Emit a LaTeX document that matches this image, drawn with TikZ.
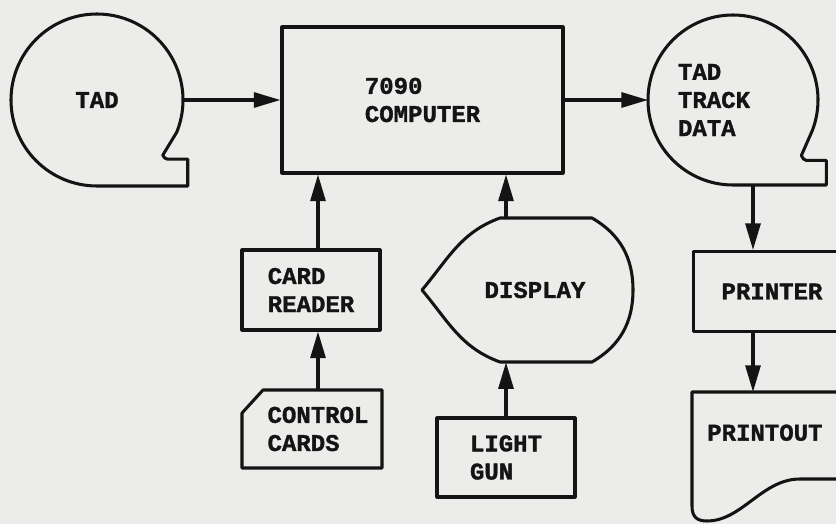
\documentclass[tikz,border=0pt]{standalone}
\usepackage{fontspec}
\setmonofont{Liberation Mono}[BoldFeatures={FakeBold=1.3}]
\usepackage{tikz}
\usetikzlibrary{arrows.meta}
\definecolor{ScanPaper}{RGB}{236, 236, 234}
\definecolor{ScanInk}{RGB}{20, 20, 20}
\newcommand{\scanfont}{\ttfamily\bfseries\fontsize{20.5}{24}\selectfont}

\begin{document}
\begin{tikzpicture}[
    x=0.03cm, y=0.03cm,
    ink/.style={draw=ScanInk, line width=2.6pt, line join=round},
    box/.style={rectangle, ink, font=\scanfont, text=ScanInk, align=left},
    txt/.style={rectangle, inner sep=0pt, font=\scanfont, text=ScanInk, align=left},
    reel/.style={circle, inner sep=0pt, outer sep=0pt, font=\scanfont, text=ScanInk, align=left},
    arrow/.style={-{Triangle[length=0.8cm, width=0.45cm]}, line width=2.6pt, draw=ScanInk}
  ]
    \useasboundingbox (0,0) rectangle (836,524);
    \fill[ScanPaper] (0,0) rectangle (836,524);
    \clip (0,0) rectangle (836,524);

    \node[reel, minimum size=5.16cm] (tad) at (97,424) {TAD};
    \node[box, minimum width=8.43cm, minimum height=4.38cm] (comp) at (422.5,424) {7090\\COMPUTER};
    \node[reel, minimum size=5.1cm, text width=3.3cm] (ttd) at (733,424) {TAD\\TRACK\\DATA};
    \node[box, minimum width=4.14cm, minimum height=2.4cm] (reader) at (311,234) {CARD\\READER};
    \node[txt, minimum height=2.34cm] (ctrl) at (318,95) {CONTROL\\CARDS};
    \node[txt, minimum height=4.32cm] (disp) at (535,234) {DISPLAY};
    \node[box, minimum width=4.14cm, minimum height=2.37cm] (gun) at (506,66.5) {LIGHT\\GUN};
    \node[box, anchor=north west, minimum height=2.4cm, text width=5cm, inner xsep=0.84cm] (printer) at (692,274) {PRINTER};
    \node[txt, anchor=north west, inner xsep=0.45cm, inner ysep=0.97cm] (printout) at (692,132) {PRINTOUT};
    \coordinate (feed) at ([xshift=0.6cm]ttd.south);

    \draw[ink] (tad.south) arc[start angle=-90, end angle=-382, radius=2.58cm] -- ++(-14,-23) to[out=-60,in=180] ++(5,-4) -- ++(20,0) |- (tad.south);
    \draw[ink] (ttd.south) arc[start angle=-90, end angle=-381, radius=2.55cm] -- ++(-11,-25) to[out=-60,in=180] ++(5,-5) -- ++(20,0) |- (ttd.south);
    \draw[ink] (500,306) -- (592,306) to[out=-30,in=90] (633,234) to[out=-90,in=30] (592,162) -- (500,162) to[out=160,in=-50] (422,234) to[out=50,in=-160] cycle;
    \draw[ink] (263,134) -- (382,134) -- (382,56) -- (242,56) -- (242,111) -- cycle;
    \draw[ink] (900,132) -- (692,132) -- (692,18) .. controls (692,7) and (697,3) .. (707,3) .. controls (742,3) and (762,45) .. (800,45) -- (900,45);

    \draw[arrow] (tad.east) -- (comp.west);
    \draw[arrow] (comp.east) -- (ttd.west);
    \draw[arrow] (feed) -- (feed |- printer.north);
    \draw[arrow] (printer.south -| feed) -- (feed |- printout.north);
    \draw[arrow] (reader.north -| ctrl.north) -- (ctrl.north |- comp.south);
    \draw[arrow] (ctrl.north) -- (ctrl.north |- reader.south);
    \draw[arrow] (disp.north -| gun.north) -- (gun.north |- comp.south);
    \draw[arrow] (gun.north) -- (gun.north |- disp.south);
  \end{tikzpicture}
\end{document}
